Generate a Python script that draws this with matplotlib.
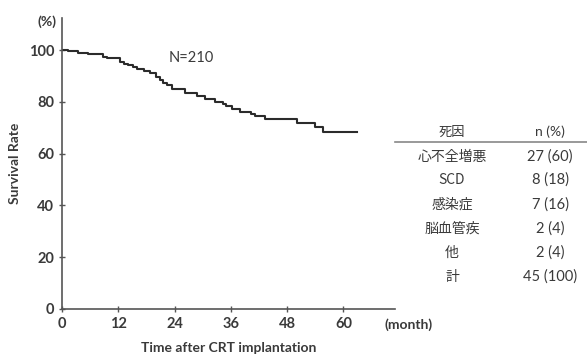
import matplotlib
matplotlib.use("Agg")
import matplotlib.pyplot as plt

# Kaplan-Meier curve (months, survival %)
times = [0, 1.3, 3.5, 5.6, 8.7, 9.7, 12.4, 13.3, 14.1, 15.2, 16.0, 17.5, 18.8,
         20.0, 20.9, 21.6, 22.3, 23.4, 26.2, 28.7, 30.5, 32.6, 34.3, 35.0,
         36.2, 38.0, 40.4, 41.2, 43.3, 50.0, 53.9, 55.7, 62.8]
surv = [100, 99.7, 99.0, 98.5, 97.4, 97.0, 95.5, 94.8, 94.2, 93.5, 92.7, 91.8,
        91.0, 89.6, 88.4, 87.4, 86.5, 84.8, 83.3, 82.2, 81.0, 80.1, 79.0, 78.4,
        77.1, 75.9, 75.3, 74.7, 73.4, 71.7, 70.4, 68.3, 68.3]

x_ticks = [0, 12, 24, 36, 48, 60]
y_ticks = [0, 20, 40, 60, 80, 100]

# cause of death table
causes = ["心不全増悪", "SCD", "感染症", "脳血管疾", "他", "計"]
counts = ["27 (60)", "8 (18)", "7 (16)", "2 (4)", "2 (4)", "45 (100)"]

txt = "#3a3a3a"
plt.rcParams['font.family'] = ['Lato', 'Noto Sans CJK JP', 'DejaVu Sans']

fig = plt.figure(figsize=(5.87, 3.54), dpi=100)
ax = fig.add_axes([62 / 587, 1 - 309 / 354, (395 - 62) / 587, (309 - 18) / 354])

ax.step(times, surv, where='post', color="#2b2b2b", lw=1.5)

ax.set_xlim(0, 71)
ax.set_ylim(0, 112.4)
ax.set_xticks(x_ticks)
ax.set_yticks(y_ticks)
ax.tick_params(direction='inout', length=4, width=1, colors="#555555",
               labelcolor=txt, labelsize=10.5)
for lab in ax.get_xticklabels() + ax.get_yticklabels():
    lab.set_fontweight('bold')
for s in ['top', 'right']:
    ax.spines[s].set_visible(False)
for s in ['left', 'bottom']:
    ax.spines[s].set_color("#555555")
    ax.spines[s].set_linewidth(1.2)

ax.set_ylabel("Survival Rate", fontsize=10, fontweight='bold', color=txt, labelpad=6)
ax.set_xlabel("Time after CRT implantation", fontsize=10, fontweight='bold',
              color=txt, labelpad=8)

fig.text(47 / 587, 1 - 22 / 354, "(%)", ha='center', va='center',
         fontsize=10, fontweight='bold', color=txt)
fig.text(409 / 587, 1 - 325 / 354, "(month)", ha='center', va='center',
         fontsize=10, fontweight='bold', color=txt)
ax.text(27.5, 96.8, "N=210", ha='center', va='center', fontsize=10.5, color=txt)

# table
col1, col2 = 452 / 587, 550 / 587
fig.text(col1, 1 - 132 / 354, "死因", ha='center', va='center', fontsize=9.5,
         color=txt, family=['Noto Sans CJK JP', 'DejaVu Sans'])
fig.text(col2, 1 - 132 / 354, "n (%)", ha='center', va='center', fontsize=10, color=txt)
fig.add_artist(plt.Line2D([395 / 587, 587 / 587], [1 - 142 / 354, 1 - 142 / 354],
                          color="#888888", lw=1.2))
row_y = [157, 180, 205, 229, 253, 277]
for c, n, y in zip(causes, counts, row_y):
    fig.text(col1, 1 - y / 354, c, ha='center', va='center', fontsize=10,
             color=txt, family=['Noto Sans CJK JP', 'DejaVu Sans'])
    fig.text(col2, 1 - y / 354, n, ha='center', va='center', fontsize=10.5, color=txt)

fig.savefig("out.png", dpi=100)
